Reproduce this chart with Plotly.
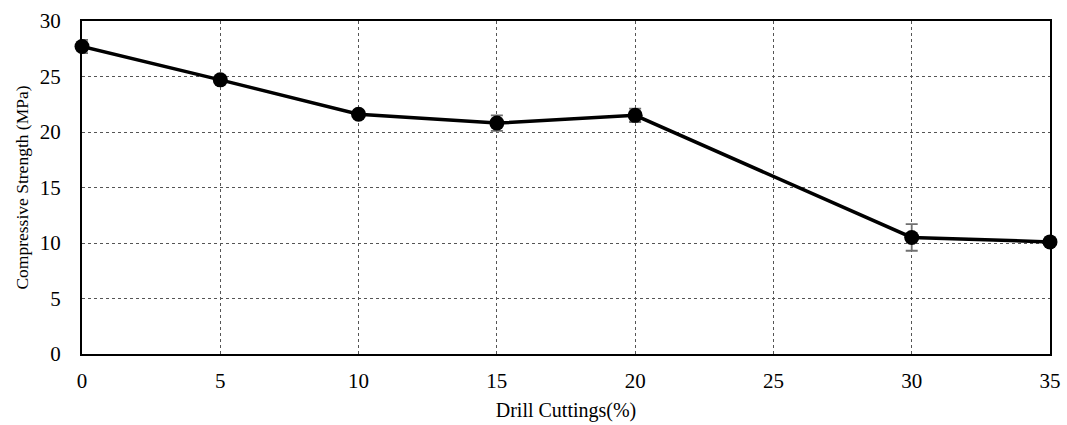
import plotly.graph_objects as go

# Compressive strength vs. drill cuttings replacement level
cuttings_pct = [0, 5, 10, 15, 20, 30, 35]
strength_mpa = [27.7, 24.7, 21.6, 20.8, 21.5, 10.5, 10.1]
strength_err = [0.6, 0.2, 0.2, 0.7, 0.6, 1.2, 0.2]
x_ticks = [0, 5, 10, 15, 20, 25, 30, 35]
y_ticks = [0, 5, 10, 15, 20, 25, 30]

font_family = "Liberation Serif"

fig = go.Figure(
    go.Scatter(
        x=cuttings_pct,
        y=strength_mpa,
        mode="lines+markers",
        line=dict(color="black", width=3.5),
        marker=dict(color="black", size=15),
        error_y=dict(type="data", array=strength_err, visible=True,
                     color="#707070", thickness=1.8, width=6),
        cliponaxis=False,
        showlegend=False,
    )
)

axis_common = dict(
    showline=True, linecolor="black", linewidth=2, mirror=True,
    showgrid=True, gridcolor="#555555", griddash="dot", gridwidth=1,
    zeroline=False, ticks="", automargin=False,
    tickfont=dict(family=font_family, size=21, color="black"),
)

fig.update_xaxes(
    range=[0, 35], tickvals=x_ticks, ticklabelstandoff=7,
    title=dict(text="Drill Cuttings(%)", font=dict(family=font_family, size=20, color="black"),
               standoff=11),
    **axis_common,
)
fig.update_yaxes(
    range=[0, 30], tickvals=y_ticks, ticklabelstandoff=15,
    title=dict(text="Compressive Strength (MPa)", font=dict(family=font_family, size=17.5, color="black"),
               standoff=7),
    **axis_common,
)

fig.update_layout(
    width=1067, height=425,
    margin=dict(l=82, r=17, t=21, b=71),
    paper_bgcolor="white", plot_bgcolor="white",
)

fig.write_html("out.html")
